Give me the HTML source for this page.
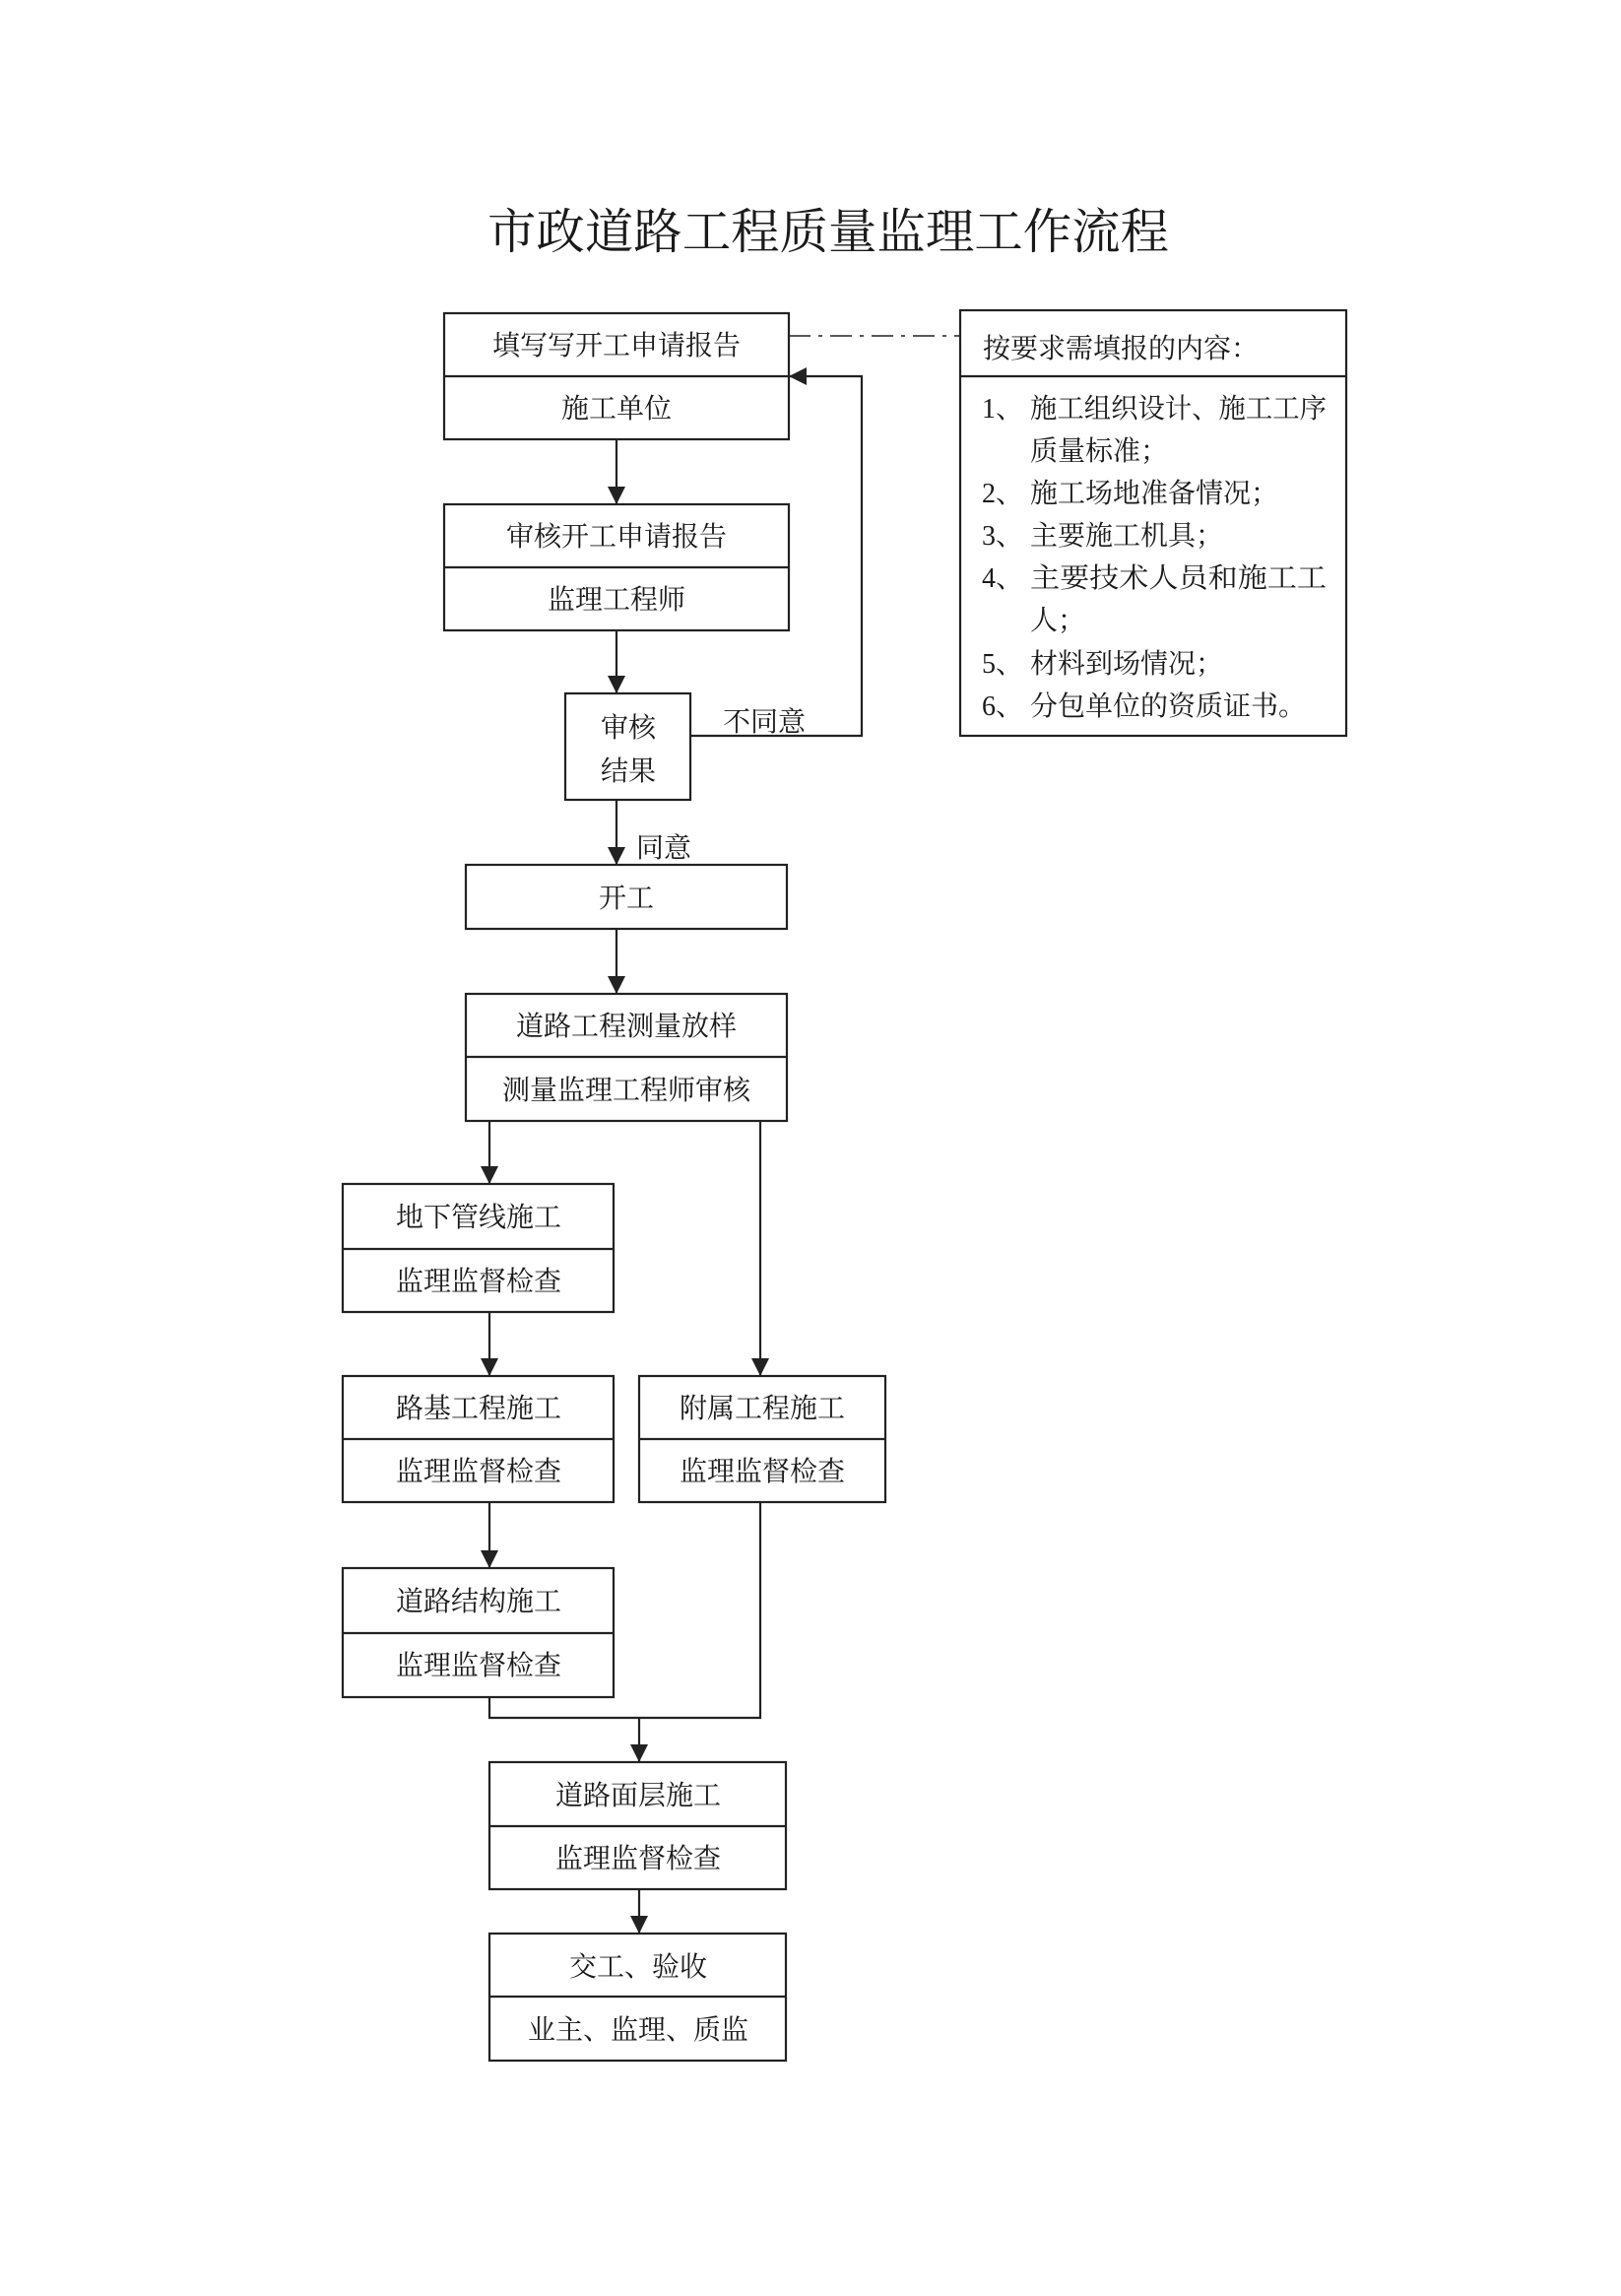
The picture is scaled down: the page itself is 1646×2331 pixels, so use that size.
<!DOCTYPE html>
<html><head><meta charset="utf-8"><style>
html,body{margin:0;padding:0;background:#fff}
svg{display:block}
text{font-family:"Liberation Serif","Noto Serif CJK SC","Noto Sans CJK SC",serif;fill:#1a1a1a}
</style></head><body>
<svg width="1646" height="2331" viewBox="0 0 1646 2331" xmlns="http://www.w3.org/2000/svg">
<defs>
<marker id="b" viewBox="0 0 10 10" markerWidth="18" markerHeight="18" refX="10" refY="5" orient="auto" markerUnits="userSpaceOnUse"><path d="M0,0 L10,5 L0,10 z" fill="#222"/></marker></defs>
<text x="495" y="252" font-size="49" textLength="692" lengthAdjust="spacingAndGlyphs">市政道路工程质量监理工作流程</text>
<g fill="none" stroke="#222" stroke-width="2.2">
<rect x="451" y="318" width="350" height="128"/><line x1="451" y1="382" x2="801" y2="382"/>
<rect x="975" y="315" width="392" height="432"/><line x1="975" y1="382" x2="1367" y2="382"/>
<rect x="451" y="512" width="350" height="128"/><line x1="451" y1="576" x2="801" y2="576"/>
<rect x="574" y="704" width="127" height="108"/>
<rect x="473" y="878" width="326" height="65"/>
<rect x="473" y="1009" width="326" height="129"/><line x1="473" y1="1073" x2="799" y2="1073"/>
<rect x="348" y="1202" width="275" height="130"/><line x1="348" y1="1268" x2="623" y2="1268"/>
<rect x="348" y="1397" width="275" height="128"/><line x1="348" y1="1461" x2="623" y2="1461"/>
<rect x="348" y="1592" width="275" height="131"/><line x1="348" y1="1658" x2="623" y2="1658"/>
<rect x="649" y="1397" width="250" height="128"/><line x1="649" y1="1461" x2="899" y2="1461"/>
<rect x="497" y="1789" width="301" height="129"/><line x1="497" y1="1854" x2="798" y2="1854"/>
<rect x="497" y="1963" width="301" height="129"/><line x1="497" y1="2027" x2="798" y2="2027"/>
<line x1="801" y1="341" x2="975" y2="341" stroke-dasharray="22,8,4,8" stroke-width="1.6"/>
<line x1="626" y1="446" x2="626" y2="512" marker-end="url(#b)"/>
<line x1="626" y1="640" x2="626" y2="704" marker-end="url(#b)"/>
<polyline points="701,747 875,747 875,382 801,382" marker-end="url(#b)"/>
<line x1="626" y1="812" x2="626" y2="878" marker-end="url(#b)"/>
<line x1="626" y1="943" x2="626" y2="1009" marker-end="url(#b)"/>
<line x1="497" y1="1138" x2="497" y2="1202" marker-end="url(#b)"/>
<line x1="772" y1="1138" x2="772" y2="1397" marker-end="url(#b)"/>
<line x1="497" y1="1332" x2="497" y2="1397" marker-end="url(#b)"/>
<line x1="497" y1="1525" x2="497" y2="1592" marker-end="url(#b)"/>
<polyline points="497,1723 497,1744 772,1744 772,1525"/>
<line x1="649" y1="1744" x2="649" y2="1789" marker-end="url(#b)"/>
<line x1="649" y1="1918" x2="649" y2="1963" marker-end="url(#b)"/>
</g>
<g font-size="28" text-anchor="middle">
<text x="626" y="360">填写写开工申请报告</text>
<text x="626" y="424">施工单位</text>
<text x="626" y="554">审核开工申请报告</text>
<text x="626" y="618">监理工程师</text>
<text x="638" y="748">审核</text>
<text x="638" y="792">结果</text>
<text x="776" y="742">不同意</text>
<text x="674" y="870">同意</text>
<text x="636" y="921">开工</text>
<text x="636" y="1051">道路工程测量放样</text>
<text x="636" y="1116">测量监理工程师审核</text>
<text x="486" y="1245">地下管线施工</text>
<text x="486" y="1310">监理监督检查</text>
<text x="486" y="1439">路基工程施工</text>
<text x="486" y="1503">监理监督检查</text>
<text x="486" y="1635">道路结构施工</text>
<text x="486" y="1700">监理监督检查</text>
<text x="774" y="1439">附属工程施工</text>
<text x="774" y="1503">监理监督检查</text>
<text x="648" y="1832">道路面层施工</text>
<text x="648" y="1896">监理监督检查</text>
<text x="648" y="2006">交工、验收</text>
<text x="648" y="2070">业主、监理、质监</text>
</g>
<g font-size="28">
<text x="998" y="363">按要求需填报的内容：</text>
<text x="997" y="424">1、</text><text x="1046" y="424" textLength="301" lengthAdjust="spacingAndGlyphs">施工组织设计、施工工序</text>
<text x="1046" y="467">质量标准；</text>
<text x="997" y="510">2、</text><text x="1046" y="510">施工场地准备情况；</text>
<text x="997" y="553">3、</text><text x="1046" y="553">主要施工机具；</text>
<text x="997" y="596">4、</text><text x="1046" y="596" textLength="301" lengthAdjust="spacingAndGlyphs">主要技术人员和施工工</text>
<text x="1046" y="639">人；</text>
<text x="997" y="683">5、</text><text x="1046" y="683">材料到场情况；</text>
<text x="997" y="726">6、</text><text x="1046" y="726">分包单位的资质证书。</text>
</g>
</svg>
</body></html>
